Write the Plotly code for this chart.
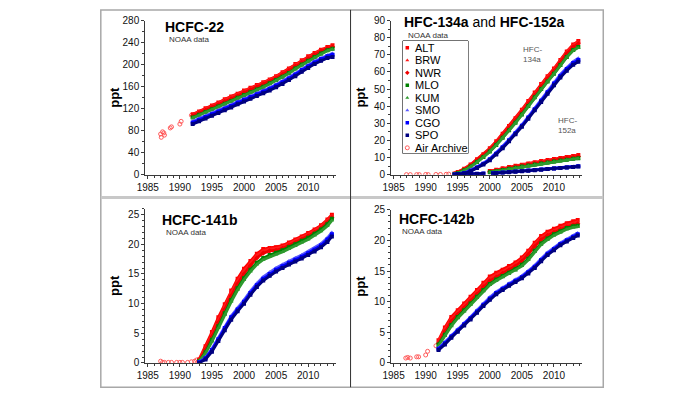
import plotly.graph_objects as go

W, H = 700, 400

STATIONS = ["ALT", "BRW", "NWR", "MLO", "KUM", "SMO", "CGO", "SPO"]
COLORS = ["#FF0000", "#FF1a1a", "#F00000", "#008000", "#2E9A2E", "#5A5AFF", "#0000FF", "#000080"]
SYMBOLS = ["square", "triangle-up", "diamond", "square", "triangle-up", "triangle-up", "square", "square"]
ARCHIVE_NAME = "Air Archive"
ARCHIVE_COLOR = "#FF5A5A"

# ---------------- HCFC-22 ----------------
YEARS_22 = [1992, 1993, 1994, 1995, 1996, 1997, 1998, 1999, 2000, 2001, 2002, 2003,
            2004, 2005, 2006, 2007, 2008, 2009, 2010, 2011, 2012, 2013, 2013.8]
ALT_22 = [110, 115, 121, 126, 131, 137, 142, 147, 153, 158, 163, 168, 173, 179, 186, 193, 201, 208, 215, 221, 227, 232, 235]
BRW_22 = [109, 114, 120, 125, 130, 136, 141, 146, 152, 157, 162, 167, 172, 178, 185, 192, 200, 207, 214, 220, 226, 231, 234]
NWR_22 = [107, 112, 117, 122, 127, 133, 138, 143, 149, 154, 159, 164, 169, 175, 182, 189, 197, 204, 211, 218, 224, 229, 232]
MLO_22 = [104, 109, 114, 119, 124, 129, 134, 140, 145, 150, 155, 160, 166, 172, 178, 185, 193, 200, 207, 214, 220, 226, 229]
KUM_22 = [103, 108, 113, 118, 123, 128, 133, 139, 144, 149, 154, 159, 165, 171, 177, 184, 192, 199, 206, 213, 219, 225, 228]
SMO_22 = [97, 102, 107, 112, 117, 122, 127, 133, 138, 143, 148, 153, 158, 164, 170, 177, 184, 192, 199, 206, 212, 217, 220]
CGO_22 = [95, 100, 105, 110, 115, 120, 125, 131, 136, 141, 146, 151, 156, 162, 168, 175, 182, 190, 197, 204, 210, 215, 218]
SPO_22 = [92, 97, 102, 107, 112, 117, 122, 128, 133, 138, 143, 148, 153, 159, 165, 172, 179, 187, 194, 201, 207, 212, 214]
ARCH_YEARS_22 = [1987.0, 1987.1, 1987.3, 1987.5, 1987.6, 1988.5, 1988.7, 1990.0, 1990.2, 1991.8]
ARCH_22 = [74, 68, 78, 76, 72, 85, 87, 92, 97, 108]

# ---------------- HFC-134a ----------------
YEARS_134 = [1994.5, 1995, 1996, 1997, 1998, 1999, 2000, 2001, 2002, 2003, 2004,
             2005, 2006, 2007, 2008, 2009, 2010, 2011, 2012, 2013, 2013.8]
ALT_134 = [0.8, 1.6, 3.5, 6.0, 9.0, 12.0, 15.5, 19.5, 24.0, 28.5, 33.0, 38.0, 43.0, 48.0, 53.0, 57.5, 62.0, 67.0, 72.0, 76.0, 78.0]
BRW_134 = [0.7, 1.5, 3.3, 5.8, 8.8, 11.8, 15.2, 19.2, 23.6, 28.0, 32.5, 37.5, 42.5, 47.5, 52.5, 57.0, 61.5, 66.5, 71.5, 75.5, 77.5]
NWR_134 = [0.5, 1.2, 3.0, 5.3, 8.2, 11.2, 14.5, 18.5, 22.8, 27.2, 31.6, 36.5, 41.5, 46.5, 51.5, 56.0, 60.5, 65.5, 70.5, 74.5, 76.5]
MLO_134 = [0.4, 1.0, 2.6, 4.8, 7.5, 10.4, 13.6, 17.4, 21.6, 26.0, 30.4, 35.2, 40.2, 45.2, 50.0, 54.5, 59.0, 64.0, 68.8, 72.8, 74.5]
KUM_134 = [0.4, 0.9, 2.5, 4.6, 7.3, 10.2, 13.4, 17.2, 21.4, 25.8, 30.2, 35.0, 40.0, 45.0, 49.8, 54.3, 58.8, 63.8, 68.6, 72.5, 74.2]
SMO_134 = [0.2, 0.4, 1.2, 2.6, 4.6, 6.8, 9.4, 12.8, 16.6, 20.6, 24.8, 29.2, 34.0, 39.0, 44.0, 49.0, 54.0, 58.5, 62.5, 66.0, 68.0]
CGO_134 = [0.1, 0.3, 1.0, 2.3, 4.3, 6.4, 9.0, 12.3, 16.1, 20.1, 24.2, 28.6, 33.4, 38.3, 43.2, 48.2, 53.2, 57.7, 61.7, 65.2, 67.0]
SPO_134 = [0.0, 0.2, 0.8, 2.0, 3.9, 6.0, 8.5, 11.8, 15.5, 19.5, 23.6, 28.0, 32.7, 37.6, 42.4, 47.3, 52.2, 56.7, 60.7, 64.2, 66.0]
ARCH_YEARS_134 = [1987.0, 1987.6, 1988.6, 1989.0, 1990.0, 1990.4, 1991.6, 1992.3, 1993.2, 1993.6]
ARCH_134 = [0.1, 0.1, 0.1, 0.1, 0.2, 0.1, 0.2, 0.2, 0.3, 0.4]

# ---------------- HFC-152a ----------------
YEARS_152_N = [2000, 2001, 2002, 2003, 2004, 2005, 2006, 2007, 2008, 2009, 2010, 2011, 2012, 2013, 2013.8]
ALT_152 = [2.2, 3.0, 3.8, 4.5, 5.2, 5.9, 6.6, 7.3, 8.0, 8.6, 9.2, 9.8, 10.4, 11.0, 11.5]
BRW_152 = [2.0, 2.8, 3.6, 4.3, 5.0, 5.7, 6.4, 7.1, 7.8, 8.4, 9.0, 9.6, 10.2, 10.8, 11.3]
NWR_152 = [1.8, 2.5, 3.2, 3.9, 4.6, 5.3, 6.0, 6.6, 7.3, 7.9, 8.5, 9.1, 9.7, 10.2, 10.7]
MLO_152 = [1.5, 2.1, 2.8, 3.5, 4.1, 4.8, 5.4, 6.0, 6.6, 7.2, 7.8, 8.3, 8.8, 9.3, 9.7]
KUM_152 = [1.4, 2.0, 2.7, 3.4, 4.0, 4.7, 5.3, 5.9, 6.5, 7.1, 7.6, 8.1, 8.6, 9.1, 9.5]
YEARS_152_S = [1995, 1996, 1997, 1998, 1999, 1999.8, 2000.5, 2001, 2002, 2003, 2004, 2005, 2006,
               2007, 2008, 2009, 2010, 2011, 2012, 2013, 2013.8]
SMO_152 = [0.5, 0.6, 0.6, 0.7, 0.8, None, 1.0, 1.1, 1.4, 1.7, 2.0, 2.3, 2.6, 2.9, 3.2, 3.5, 3.8, 4.1, 4.4, 4.8, 5.2]
CGO_152 = [0.4, 0.5, 0.5, 0.6, 0.7, None, 0.9, 1.0, 1.3, 1.6, 1.9, 2.2, 2.5, 2.8, 3.1, 3.4, 3.7, 4.0, 4.3, 4.6, 5.0]
SPO_152 = [0.3, 0.4, 0.4, 0.5, 0.6, None, 0.8, 0.9, 1.2, 1.5, 1.8, 2.1, 2.4, 2.7, 3.0, 3.3, 3.6, 3.9, 4.2, 4.5, 4.8]

# ---------------- HCFC-141b ----------------
YEARS_141 = [1993, 1994, 1995, 1996, 1997, 1998, 1999, 2000, 2001, 2002, 2003, 2004,
             2005, 2006, 2007, 2008, 2009, 2010, 2011, 2012, 2013, 2013.7]
ALT_141 = [0.6, 2.8, 5.2, 7.7, 9.9, 12.2, 14.2, 15.9, 17.2, 18.4, 19.2, 19.4, 19.5, 19.8, 20.3, 20.8, 21.3, 21.9, 22.5, 23.2, 24.2, 25.0]
BRW_141 = [0.5, 2.5, 4.8, 7.3, 9.5, 11.8, 13.8, 15.5, 16.8, 18.1, 18.9, 19.2, 19.3, 19.6, 20.1, 20.6, 21.1, 21.7, 22.3, 23.0, 24.0, 24.8]
NWR_141 = [0.4, 2.2, 4.4, 6.8, 9.0, 11.3, 13.3, 15.0, 16.4, 17.7, 18.5, 18.9, 19.0, 19.3, 19.8, 20.3, 20.8, 21.4, 22.0, 22.7, 23.7, 24.5]
MLO_141 = [0.3, 1.8, 3.9, 6.2, 8.4, 10.6, 12.6, 14.3, 15.7, 16.9, 17.7, 18.2, 18.6, 19.0, 19.5, 20.0, 20.6, 21.1, 21.8, 22.5, 23.4, 24.3]
KUM_141 = [0.3, 1.6, 3.6, 5.9, 8.1, 10.3, 12.3, 14.0, 15.4, 16.6, 17.4, 17.9, 18.3, 18.7, 19.2, 19.7, 20.3, 20.8, 21.5, 22.2, 23.1, 24.0]
SMO_141 = [0.1, 0.9, 2.4, 4.2, 6.1, 7.9, 9.3, 10.6, 12.1, 13.4, 14.5, 15.3, 16.0, 16.6, 17.2, 17.7, 18.2, 18.8, 19.4, 20.1, 21.1, 22.0]
CGO_141 = [0.1, 0.8, 2.2, 4.0, 5.9, 7.7, 9.0, 10.3, 11.8, 13.1, 14.2, 15.0, 15.7, 16.3, 16.9, 17.4, 17.9, 18.5, 19.1, 19.8, 20.8, 21.7]
SPO_141 = [0.0, 0.6, 1.9, 3.7, 5.5, 7.3, 8.7, 10.0, 11.5, 12.8, 13.9, 14.7, 15.4, 16.0, 16.6, 17.1, 17.6, 18.2, 18.8, 19.5, 20.4, 21.3]
ARCH_YEARS_141 = [1987.0, 1987.3, 1987.6, 1988.2, 1988.7, 1989.5, 1990.0, 1990.4, 1991.2, 1991.8, 1992.3, 1992.6]
ARCH_141 = [0.3, 0.1, 0.1, 0.1, 0.1, 0.1, 0.1, 0.1, 0.1, 0.2, 0.3, 0.5]

# ---------------- HCFC-142b ----------------
YEARS_142 = [1992, 1993, 1994, 1995, 1996, 1997, 1998, 1999, 2000, 2001, 2002, 2003,
             2004, 2005, 2006, 2007, 2008, 2009, 2010, 2011, 2012, 2013, 2013.7]
ALT_142 = [3.7, 5.8, 7.5, 8.6, 9.7, 10.8, 11.9, 13.1, 14.1, 14.7, 15.2, 15.8, 16.4, 17.2, 18.3, 19.6, 20.7, 21.4, 21.9, 22.4, 22.8, 23.1, 23.3]
BRW_142 = [3.5, 5.5, 7.2, 8.3, 9.4, 10.5, 11.6, 12.8, 13.8, 14.4, 14.9, 15.5, 16.1, 16.9, 18.0, 19.3, 20.4, 21.1, 21.6, 22.1, 22.5, 22.8, 23.0]
NWR_142 = [3.2, 5.1, 6.8, 7.9, 9.0, 10.1, 11.2, 12.4, 13.4, 14.0, 14.6, 15.2, 15.8, 16.6, 17.7, 19.0, 20.1, 20.8, 21.3, 21.8, 22.2, 22.5, 22.7]
MLO_142 = [3.0, 4.6, 6.2, 7.5, 8.6, 9.7, 10.8, 11.9, 12.9, 13.6, 14.2, 14.7, 15.3, 16.0, 17.0, 18.3, 19.5, 20.3, 21.0, 21.5, 22.0, 22.3, 22.4]
KUM_142 = [2.8, 4.4, 6.0, 7.3, 8.4, 9.5, 10.6, 11.7, 12.7, 13.4, 14.0, 14.5, 15.1, 15.8, 16.8, 18.1, 19.3, 20.1, 20.8, 21.3, 21.8, 22.1, 22.2]
SMO_142 = [2.4, 3.4, 4.5, 5.5, 6.5, 7.5, 8.6, 9.7, 10.7, 11.6, 12.3, 13.0, 13.6, 14.2, 15.0, 15.9, 17.0, 18.0, 18.8, 19.6, 20.2, 20.8, 21.2]
CGO_142 = [2.3, 3.2, 4.3, 5.3, 6.3, 7.3, 8.4, 9.5, 10.5, 11.4, 12.1, 12.8, 13.4, 14.0, 14.8, 15.7, 16.8, 17.8, 18.6, 19.4, 20.0, 20.6, 21.0]
SPO_142 = [2.1, 3.0, 4.1, 5.1, 6.1, 7.1, 8.2, 9.3, 10.3, 11.2, 11.9, 12.6, 13.2, 13.8, 14.6, 15.5, 16.6, 17.6, 18.4, 19.2, 19.8, 20.4, 20.8]
ARCH_YEARS_142 = [1986.9, 1987.2, 1987.6, 1988.6, 1988.9, 1990.0, 1990.3, 1991.6]
ARCH_142 = [0.8, 0.9, 0.8, 1.0, 1.0, 1.3, 1.9, 2.8]

TITLES = ["HCFC-22", "HFC-134a and HFC-152a", "HCFC-141b", "HCFC-142b"]
X_TICKS = [1985, 1990, 1995, 2000, 2005, 2010]

FONT = "Liberation Sans, Arial, sans-serif"

fig = go.Figure()


def add_station_traces(xa, ya, xs_list, ys_list):
    for i in range(len(STATIONS)):
        fig.add_trace(go.Scatter(
            x=xs_list[i], y=ys_list[i], xaxis=xa, yaxis=ya,
            mode="lines+markers", name=STATIONS[i], showlegend=False,
            line=dict(color=COLORS[i], width=2.8),
            marker=dict(color=COLORS[i], symbol=SYMBOLS[i], size=4),
            connectgaps=False, hoverinfo="skip"))


def add_archive(xa, ya, xs, ys):
    fig.add_trace(go.Scatter(
        x=xs, y=ys, xaxis=xa, yaxis=ya, mode="markers", name=ARCHIVE_NAME,
        showlegend=False, hoverinfo="skip",
        marker=dict(symbol="circle-open", size=4, color=ARCHIVE_COLOR, line=dict(width=1))))


add_archive("x", "y", ARCH_YEARS_22, ARCH_22)
add_station_traces("x", "y", [YEARS_22] * 8,
                   [ALT_22, BRW_22, NWR_22, MLO_22, KUM_22, SMO_22, CGO_22, SPO_22])

add_archive("x2", "y2", ARCH_YEARS_134, ARCH_134)
s134 = [ALT_134, BRW_134, NWR_134, MLO_134, KUM_134, SMO_134, CGO_134, SPO_134]
s152 = [ALT_152, BRW_152, NWR_152, MLO_152, KUM_152, SMO_152, CGO_152, SPO_152]
xs2, ys2 = [], []
for i in range(8):
    yrs152 = YEARS_152_N if i < 5 else YEARS_152_S
    xs2.append(YEARS_134 + [None] + yrs152)
    ys2.append(s134[i] + [None] + s152[i])
add_station_traces("x2", "y2", xs2, ys2)

add_archive("x3", "y3", ARCH_YEARS_141, ARCH_141)
add_station_traces("x3", "y3", [YEARS_141] * 8,
                   [ALT_141, BRW_141, NWR_141, MLO_141, KUM_141, SMO_141, CGO_141, SPO_141])

add_archive("x4", "y4", ARCH_YEARS_142, ARCH_142)
add_station_traces("x4", "y4", [YEARS_142] * 8,
                   [ALT_142, BRW_142, NWR_142, MLO_142, KUM_142, SMO_142, CGO_142, SPO_142])

# ---- compact legend drawn inside the top-right panel ----
LEG_NAMES = STATIONS + [ARCHIVE_NAME]
for i, nm in enumerate(LEG_NAMES):
    if i < 8:
        mk = dict(color=COLORS[i], symbol=SYMBOLS[i], size=3.5)
    else:
        mk = dict(symbol="circle-open", size=4, color=ARCHIVE_COLOR, line=dict(width=1))
    fig.add_trace(go.Scatter(x=[0.9], y=[i], xaxis="x9", yaxis="y9", mode="markers",
                             marker=mk, showlegend=False, hoverinfo="skip"))
    fig.add_annotation(x=2.0, y=i, xref="x9", yref="y9", text=nm, showarrow=False,
                       xanchor="left", yanchor="middle",
                       font=dict(family=FONT, size=11, color="#000000"))


def px_x(p):
    return p / W


def px_y(p):
    return 1 - p / H


AX_COLOR = "#3a3a3a"
TICK_FONT = dict(family=FONT, size=10, color="#111111")
X_RANGE = [1984.6, 2014.3]


def xaxis(d0, d1, anchor):
    return dict(domain=[px_x(d0), px_x(d1)], anchor=anchor, range=X_RANGE,
                tickmode="array", tickvals=X_TICKS, ticktext=[str(v) for v in X_TICKS],
                ticks="outside", ticklen=3, tickwidth=1, tickcolor=AX_COLOR,
                showline=True, linecolor=AX_COLOR, linewidth=1,
                showgrid=False, zeroline=False, tickfont=TICK_FONT,
                minor=dict(dtick=1, tick0=1985, ticks="outside", ticklen=2, tickcolor=AX_COLOR),
                fixedrange=True)


def xaxis_in(d0, d1, anchor, over):
    return dict(domain=[px_x(d0), px_x(d1)], anchor=anchor, overlaying=over, range=X_RANGE,
                tickmode="array", tickvals=X_TICKS, ticks="inside", ticklen=3, tickwidth=1,
                tickcolor=AX_COLOR, showticklabels=False, showline=False,
                showgrid=False, zeroline=False,
                minor=dict(dtick=1, tick0=1985, ticks="inside", ticklen=2, tickcolor=AX_COLOR),
                fixedrange=True)


def yaxis(d0, d1, anchor, rng, dtick, mdtick):
    return dict(domain=[px_y(d1), px_y(d0)], anchor=anchor, range=rng,
                dtick=dtick, tick0=0, ticks="outside", ticklen=3, tickwidth=1,
                tickcolor=AX_COLOR, showline=True, linecolor=AX_COLOR, linewidth=1,
                showgrid=False, zeroline=False, tickfont=TICK_FONT,
                minor=dict(dtick=mdtick, ticks="outside", ticklen=2, tickcolor=AX_COLOR),
                fixedrange=True)


def yaxis_in(d0, d1, anchor, over, rng, dtick, mdtick):
    return dict(domain=[px_y(d1), px_y(d0)], anchor=anchor, overlaying=over, range=rng,
                dtick=dtick, tick0=0, ticks="inside", ticklen=3, tickwidth=1,
                tickcolor=AX_COLOR, showticklabels=False, showline=False,
                showgrid=False, zeroline=False,
                minor=dict(dtick=mdtick, ticks="inside", ticklen=2, tickcolor=AX_COLOR),
                fixedrange=True)


XL0, XL1 = 138, 331
XR0, XR1 = 387, 580
PANELS = [
    (XL0, XL1, 15, 174, [0, 280], 40, 20),
    (XR0, XR1, 15, 174, [0, 90], 10, 5),
    (XL0, XL1, 209, 368, [0, 26], 5, 1),
    (XR0, XR1, 210, 368, [0, 25], 5, 1),
]

layout_axes = {}
for k, (a0, a1, b0, b1, rng, dt, mdt) in enumerate(PANELS):
    n = k + 1
    sfx = "" if n == 1 else str(n)
    layout_axes["xaxis" + sfx] = xaxis(a0, a1, "y" + sfx)
    layout_axes["yaxis" + sfx] = yaxis(b0, b1, "x" + sfx, rng, dt, mdt)
    layout_axes["xaxis" + str(10 + n)] = xaxis_in(a0, a1, "y" + sfx, "x" + sfx)
    layout_axes["yaxis" + str(10 + n)] = yaxis_in(b0, b1, "x" + sfx, "y" + sfx, rng, dt, mdt)

fig.update_layout(
    width=W, height=H, margin=dict(l=0, r=0, t=0, b=0),
    paper_bgcolor="white", plot_bgcolor="white", showlegend=False,
    xaxis9=dict(domain=[px_x(399), px_x(465)], anchor="y9", range=[0, 13.2], visible=False,
                fixedrange=True),
    yaxis9=dict(domain=[px_y(152), px_y(36)], anchor="x9", range=[8.45, -0.55], visible=False,
                fixedrange=True),
    **layout_axes,
)

fig.add_shape(type="rect", xref="paper", yref="paper",
              x0=px_x(399), x1=px_x(465), y0=px_y(152), y1=px_y(36),
              line=dict(color="#000000", width=1), fillcolor="rgba(0,0,0,0)", layer="below")

for (px, py) in [(107, 94), (356, 94), (107, 288), (356, 289)]:
    fig.add_annotation(x=px_x(px), y=px_y(py), xref="paper", yref="paper", text="<b>ppt</b>",
                       showarrow=False, textangle=-90, xanchor="center", yanchor="middle",
                       font=dict(family=FONT, size=13, color="#000"))

title_pos = [(156, 22, 160, 35), (398, 17, 402, 30), (153, 221, 157, 233), (393, 220, 396, 232)]
for (tx, ty, nx, ny), t in zip(title_pos, TITLES):
    if t.startswith("HFC-134a"):
        txt = "<b>HFC-134a</b> and <b>HFC-152a</b>"
    else:
        txt = "<b>%s</b>" % t
    fig.add_annotation(x=px_x(tx), y=px_y(ty), xref="paper", yref="paper", text=txt,
                       showarrow=False, xanchor="left", yanchor="middle",
                       font=dict(family=FONT, size=14, color="#000"))
    fig.add_annotation(x=px_x(nx), y=px_y(ny), xref="paper", yref="paper", text="NOAA data",
                       showarrow=False, xanchor="left", yanchor="middle",
                       font=dict(family=FONT, size=8, color="#333"))

fig.add_annotation(x=2006.6, y=70, xref="x2", yref="y2", text="HFC-<br>134a", showarrow=False,
                   xanchor="center", yanchor="middle", align="left",
                   font=dict(family=FONT, size=8, color="#555"))
fig.add_annotation(x=2010.3, y=29, xref="x2", yref="y2", text="HFC-<br>152a", showarrow=False,
                   xanchor="left", yanchor="middle", align="left",
                   font=dict(family=FONT, size=8, color="#555"))

fig.add_shape(type="rect", xref="paper", yref="paper", x0=px_x(93), x1=px_x(602),
              y0=px_y(393), y1=px_y(4), line=dict(color="#A8A8A8", width=1.5), layer="below")
fig.add_shape(type="line", xref="paper", yref="paper", x0=px_x(93), x1=px_x(602),
              y0=px_y(197.5), y1=px_y(197.5), line=dict(color="#C8C8C8", width=3), layer="below")
fig.add_shape(type="line", xref="paper", yref="paper", x0=px_x(346), x1=px_x(346),
              y0=px_y(393), y1=px_y(4), line=dict(color="#303030", width=1), layer="below")

fig.write_html("out.html")
